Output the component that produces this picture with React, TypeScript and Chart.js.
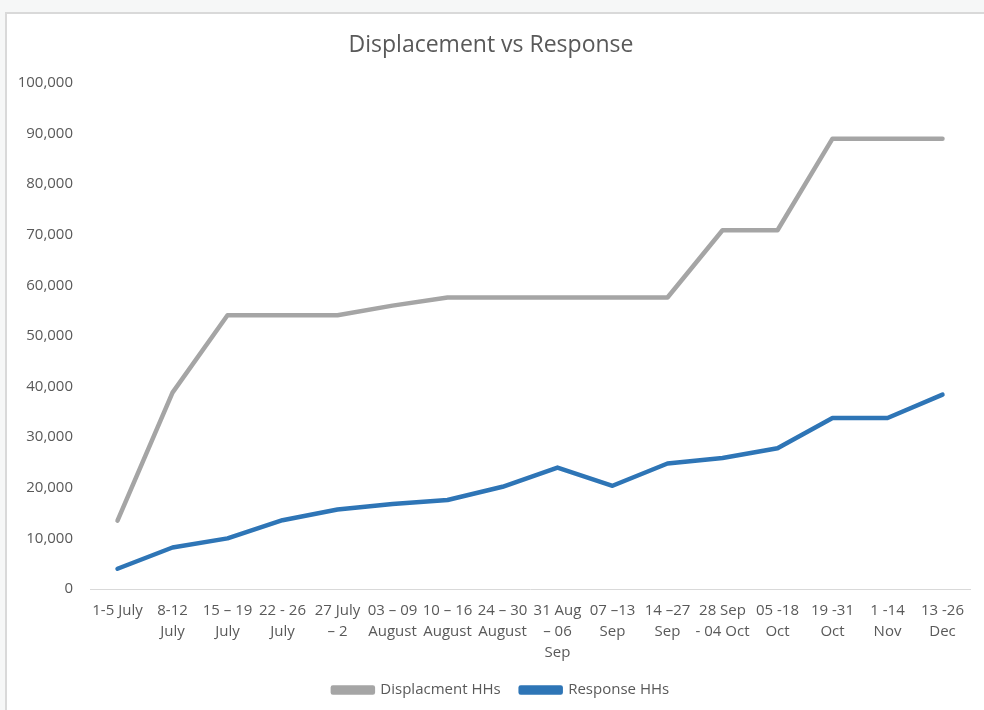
import React, { useEffect, useRef } from "react";
import { Chart, registerables } from "chart.js";

Chart.register(...registerables);

const categories: (string | string[])[] = [
  "1-5 July",
  ["8-12", "July"],
  ["15 – 19", "July"],
  ["22 - 26", "July"],
  ["27 July", "– 2"],
  ["03 – 09", "August"],
  ["10 – 16", "August"],
  ["24 – 30", "August"],
  ["31 Aug", "– 06", "Sep"],
  ["07 –13", "Sep"],
  ["14 –27", "Sep"],
  ["28 Sep", "- 04 Oct"],
  ["05 -18", "Oct"],
  ["19 -31", "Oct"],
  ["1 -14", "Nov"],
  ["13 -26", "Dec"],
];

const displacementHHs = [13500, 38800, 54100, 54100, 54100, 56000, 57600, 57600, 57600, 57600, 57600, 70900, 70900, 89000, 89000, 89000];
const responseHHs = [4000, 8200, 10000, 13600, 15700, 16800, 17600, 20200, 24000, 20400, 24800, 25900, 27800, 33800, 33800, 38400];

const yTicks = { min: 0, max: 100000, step: 10000 };

const FONT = "'Open Sans', 'Noto Sans', sans-serif";
const TEXT = "#595959";

const legendShift = {
  id: "legendShift",
  afterLayout(chart: any) {
    const lg = chart.legend;
    if (lg) {
      lg.left += 10;
      lg.right += 10;
    }
  },
};

export default function App() {
  const ref = useRef<HTMLCanvasElement | null>(null);

  useEffect(() => {
    document.body.style.margin = "0";
    if (!ref.current) return;
    const chart = new Chart(ref.current, {
      type: "line",
      data: {
        labels: categories,
        datasets: [
          {
            label: "Displacment HHs",
            data: displacementHHs,
            borderColor: "#a5a5a5",
            backgroundColor: "#a5a5a5",
            borderWidth: 4.5,
            pointRadius: 0,
            borderCapStyle: "round",
            borderJoinStyle: "round",
            tension: 0,
          },
          {
            label: "Response HHs",
            data: responseHHs,
            borderColor: "#2e75b6",
            backgroundColor: "#2e75b6",
            borderWidth: 4.5,
            pointRadius: 0,
            borderCapStyle: "round",
            borderJoinStyle: "round",
            tension: 0,
          },
        ],
      },
      plugins: [legendShift],
      options: {
        animation: false,
        responsive: false,
        maintainAspectRatio: false,
        layout: { padding: { left: 12, right: 14, top: 32, bottom: 2.5 } },
        plugins: {
          title: {
            display: true,
            text: "Displacement vs Response",
            color: TEXT,
            font: { family: FONT, size: 23, weight: "normal" },
            padding: { top: 0, bottom: 23.4 },
          },
          legend: {
            position: "bottom",
            labels: {
              color: TEXT,
              font: { family: FONT, size: 15 },
              boxWidth: 40,
              boxHeight: 5,
              padding: 20,
            },
          },
          tooltip: { enabled: false },
        },
        scales: {
          x: {
            offset: true,
            grid: { display: false, drawTicks: false },
            border: { display: true, color: "#d9d9d9", width: 1 },
            ticks: {
              color: TEXT,
              font: { family: FONT, size: 15, lineHeight: 1.4 },
              padding: 11.5,
              maxRotation: 0,
              autoSkip: false,
            },
            afterFit: (scale: any) => {
              scale.height = 73.5;
            },
          },
          y: {
            min: yTicks.min,
            max: yTicks.max,
            grid: { display: false, drawTicks: false },
            border: { display: false },
            ticks: {
              stepSize: yTicks.step,
              color: TEXT,
              font: { family: FONT, size: 15 },
              padding: 17,
              callback: (v: any) => Number(v).toLocaleString("en-US"),
            },
            afterFit: (scale: any) => {
              scale.width = 78;
            },
          },
        },
      },
    });
    return () => chart.destroy();
  }, []);

  return (
    <div style={{ position: "fixed", left: 0, top: 0, width: 984, height: 710, background: "#f6f7f7", overflow: "hidden" }}>
      <div
        style={{
          position: "absolute",
          left: 5,
          top: 12,
          width: 984,
          height: 710,
          background: "#ffffff",
          borderTop: "2px solid #d9d9d9",
          borderLeft: "2px solid #d9d9d9",
        }}
      />
      <canvas ref={ref} width={984} height={710} style={{ position: "absolute", left: 0, top: 0 }} />
    </div>
  );
}
